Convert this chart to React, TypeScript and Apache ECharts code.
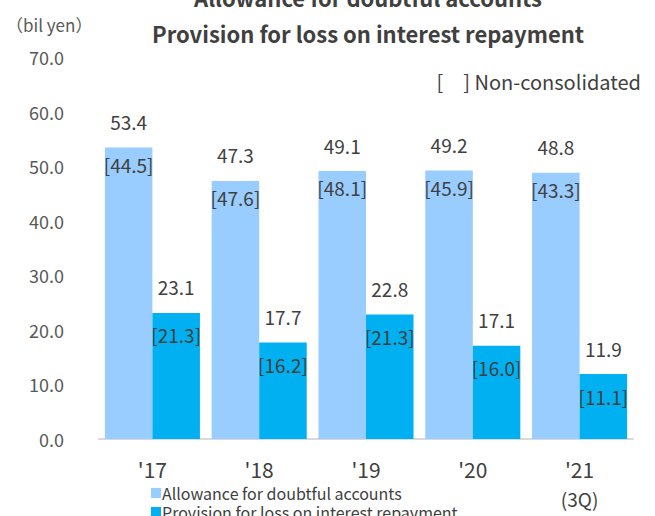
import React, { useEffect, useRef } from "react";
import * as echarts from "echarts";

const categories = ["'17", "'18", "'19", "'20", "'21"];
const categoryNotes = ["", "", "", "", "(3Q)"];
const allowanceConsolidated = [53.4, 47.3, 49.1, 49.2, 48.8];
const allowanceNonConsolidated = [44.5, 47.6, 48.1, 45.9, 43.3];
const provisionConsolidated = [23.1, 17.7, 22.8, 17.1, 11.9];
const provisionNonConsolidated = [21.3, 16.2, 21.3, 16.0, 11.1];
const seriesNames = ["Allowance for doubtful accounts", "Provision for loss on interest repayment"];

const FONT = "'Noto Sans CJK JP', 'Noto Sans', sans-serif";
const TEXT = "#404040";

export default function App() {
  const ref = useRef<HTMLDivElement>(null);
  useEffect(() => {
    if (!ref.current) return;
    const chart = echarts.init(ref.current, undefined, { renderer: "svg" });
    const mkLabel = (nonCons: number[], gap: number) => ({
      show: true,
      position: ["50%", -47] as any,
      align: "center",
      verticalAlign: "top",
      formatter: (p: any) =>
        `{a|${p.value.toFixed(1)}}\n{b|[${nonCons[p.dataIndex].toFixed(1)}]}`,
      rich: {
        a: { fontSize: 19, color: TEXT, fontFamily: FONT, lineHeight: 42, align: "center" },
        b: { fontSize: 19, color: TEXT, fontFamily: FONT, lineHeight: gap, align: "center" },
      },
    });
    const legendCommon = {
      orient: "horizontal",
      left: 146,
      itemWidth: 10,
      itemHeight: 10,
      icon: "rect",
      textStyle: { fontSize: 16, lineHeight: 18, color: TEXT, fontFamily: FONT, padding: [0, 0, 0, -4] },
    };
    chart.setOption({
      animation: false,
      textStyle: { fontFamily: FONT },
      graphic: [
        {
          type: "text",
          x: 368,
          y: -3,
          style: { text: "Allowance for doubtful accounts", font: `bold 22px ${FONT}`, fill: TEXT, align: "center", verticalAlign: "middle" },
        },
        {
          type: "text",
          x: 368,
          y: 33,
          style: { text: "Provision for loss on interest repayment", font: `bold 22px ${FONT}`, fill: TEXT, align: "center", verticalAlign: "middle" },
        },
        {
          type: "text",
          x: 6,
          y: 24,
          style: { text: "（bil yen）", font: `17px ${FONT}`, fill: "#595959", verticalAlign: "middle" },
        },
        {
          type: "text",
          x: 641,
          y: 81,
          style: { text: "[　] Non-consolidated", font: `20px ${FONT}`, fill: TEXT, align: "right", verticalAlign: "middle" },
        },
      ],
      legend: [
        { ...legendCommon, top: 479, data: [seriesNames[0]] },
        { ...legendCommon, top: 498, data: [seriesNames[1]] },
      ],
      grid: { left: 99, right: 22, top: 57, bottom: 77 },
      xAxis: {
        type: "category",
        data: categories,
        axisLine: { lineStyle: { color: "#D9D9D9", width: 2 } },
        axisTick: { show: false },
        axisLabel: {
          color: TEXT,
          fontFamily: FONT,
          margin: 19,
          formatter: (v: string, i: number) =>
            categoryNotes[i] ? `{a|${v}}\n{b|${categoryNotes[i]}}` : `{a|${v}}`,
          rich: {
            a: { fontSize: 21, lineHeight: 22, color: TEXT, fontFamily: FONT },
            b: { fontSize: 19, lineHeight: 36, color: TEXT, fontFamily: FONT },
          },
        },
      },
      yAxis: {
        type: "value",
        min: 0,
        max: 70,
        interval: 10,
        splitLine: { show: false },
        axisLine: { show: false },
        axisTick: { show: false },
        axisLabel: {
          fontSize: 18,
          color: "#595959",
          fontFamily: FONT,
          margin: 35,
          formatter: (v: number) => v.toFixed(1),
        },
      },
      series: [
        {
          name: seriesNames[0],
          type: "bar",
          data: allowanceConsolidated,
          barGap: "0%",
          barCategoryGap: "11%",
          itemStyle: { color: "#99CCFF" },
          label: mkLabel(allowanceNonConsolidated, 43),
        },
        {
          name: seriesNames[1],
          type: "bar",
          data: provisionConsolidated,
          itemStyle: { color: "#00B0F0" },
          label: mkLabel(provisionNonConsolidated, 54),
        },
      ],
    });
    return () => chart.dispose();
  }, []);
  return <div ref={ref} style={{ width: 655, height: 516, position: "absolute", left: 0, top: 0 }} />;
}
